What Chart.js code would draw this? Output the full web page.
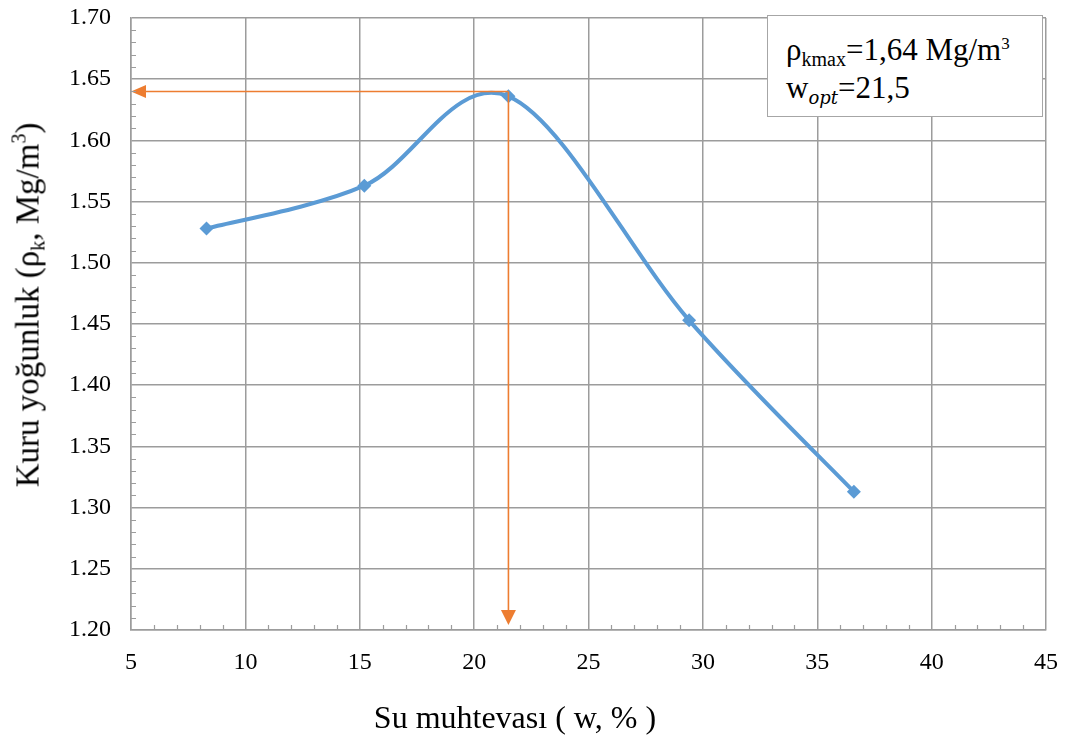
<!DOCTYPE html>
<html>
<head>
<meta charset="utf-8">
<script src="https://cdn.jsdelivr.net/npm/chart.js@4.4.1/dist/chart.umd.min.js"></script>
<style>
  html, body { margin: 0; padding: 0; background: #ffffff; }
  #wrap { position: relative; width: 1069px; height: 740px; }
  #chart { position: absolute; left: 0; top: 0; }
  .serif { font-family: "Liberation Serif", "Times New Roman", serif; color: #000; }
  #ytitle {
    position: absolute; left: 28px; top: 305px;
    transform: translate(-50%, -50%) rotate(-90deg);
    white-space: nowrap; font-size: 33px; line-height: 1;
  }
  #ytitle sub { font-size: 20px; vertical-align: -6px; line-height: 0; }
  #ytitle sup { font-size: 20px; vertical-align: 13px; line-height: 0; }
  #xtitle {
    position: absolute; left: 515px; top: 717px;
    transform: translate(-50%, -50%);
    white-space: nowrap; font-size: 32px; line-height: 1;
  }
  #infobox {
    position: absolute; left: 767px; top: 15px; width: 274px; height: 100px;
    background: #ffffff; border: 1.5px solid #a6a6a6;
  }
  #infobox .ln { position: absolute; left: 18px; white-space: nowrap; font-size: 31px; line-height: 1; }
  #infobox sub { font-size: 20px; vertical-align: -6px; line-height: 0; }
  #infobox sup { font-size: 17px; vertical-align: 11px; line-height: 0; }
  #infobox i { font-family: "DejaVu Serif", serif; font-style: italic; font-size: 18px; }
</style>
</head>
<body>
<div id="wrap">
  <canvas id="chart" width="1069" height="740"></canvas>
  <div id="ytitle" class="serif">Kuru yoğunluk (ρ<sub>k</sub>, Mg/m<sup>3</sup>)</div>
  <div id="xtitle" class="serif">Su muhtevası ( w, % )</div>
  <div id="infobox" class="serif">
    <div class="ln" style="top:18px;">ρ<sub>kmax</sub>=1,64 Mg/m<sup>3</sup></div>
    <div class="ln" style="top:56px;">w<sub><i>opt</i></sub>=21,5</div>
  </div>
</div>
<script>
// Compaction test: water content (%) vs dry density (Mg/m3)
const waterContent = [8.3, 15.2, 21.5, 29.4, 36.6];
const dryDensity   = [1.528, 1.563, 1.636, 1.453, 1.313];

// Optimum values
const optWater   = 21.5;
const maxDensity = 1.64;

// Axis ranges and tick steps
const xRange = [5, 45];
const xStep = 5;
const yRange = [1.20, 1.70];
const yStep = 0.05;

const serif = "'Liberation Serif', 'Times New Roman', serif";
const gridGray = '#9c9c9c';
const blue = '#5b9bd5';
const orange = '#ed7d31';

// Uniform Catmull-Rom smoothing: control points at 1/6 of the neighbour span
const SMOOTH = 1 / 6;
const uniformSpline = {
  id: 'uniformSpline',
  beforeDatasetDraw(chart, args) {
    const line = args.meta.dataset;
    if (!line) return;
    line.updateControlPoints(chart.chartArea);
    const pts = args.meta.data;
    for (let i = 0; i < pts.length; i++) {
      const p = pts[i];
      const a = pts[i - 1] || p;
      const b = pts[i + 1] || p;
      const dx = (b.x - a.x) * SMOOTH;
      const dy = (b.y - a.y) * SMOOTH;
      p.cp1x = p.x - dx; p.cp1y = p.y - dy;
      p.cp2x = p.x + dx; p.cp2y = p.y + dy;
    }
  }
};

// Small inner ticks between the major gridlines
const minorTicks = {
  id: 'minorTicks',
  afterDraw(chart) {
    const { ctx, chartArea: a, scales: { x, y } } = chart;
    ctx.save();
    ctx.strokeStyle = gridGray;
    ctx.lineWidth = 1.2;
    ctx.beginPath();
    for (let v = xRange[0]; v <= xRange[1] + 1e-9; v += 1) {
      if (Math.abs(v / xStep - Math.round(v / xStep)) < 1e-6) continue;
      const px = Math.round(x.getPixelForValue(v)) + 0.5;
      ctx.moveTo(px, a.bottom);
      ctx.lineTo(px, a.bottom - 5);
    }
    for (let i = 0; i <= 50; i++) {
      if (i % 5 === 0) continue;
      const v = yRange[0] + i * 0.01;
      const py = Math.round(y.getPixelForValue(v)) + 0.5;
      ctx.moveTo(a.left, py);
      ctx.lineTo(a.left + 5, py);
    }
    ctx.stroke();
    ctx.restore();
  }
};

// Orange guide arrows from the optimum point to both axes
function arrowHead(ctx, tipX, tipY, dx, dy, len, half) {
  const bx = tipX - dx * len, by = tipY - dy * len;
  const nx = -dy, ny = dx;
  ctx.beginPath();
  ctx.moveTo(tipX, tipY);
  ctx.lineTo(bx + nx * half, by + ny * half);
  ctx.lineTo(bx - nx * half, by - ny * half);
  ctx.closePath();
  ctx.fill();
}
const optimumArrows = {
  id: 'optimumArrows',
  afterDatasetsDraw(chart) {
    const { ctx, scales: { x, y } } = chart;
    const ox = x.getPixelForValue(optWater);
    const oy = y.getPixelForValue(maxDensity);
    const lx = x.getPixelForValue(xRange[0]);
    const by = y.getPixelForValue(yRange[0]) - 5;
    ctx.save();
    ctx.strokeStyle = orange;
    ctx.fillStyle = orange;
    ctx.lineWidth = 1.6;
    ctx.beginPath();
    ctx.moveTo(ox, oy);
    ctx.lineTo(lx + 12, oy);
    ctx.moveTo(ox, oy);
    ctx.lineTo(ox, by - 12);
    ctx.stroke();
    arrowHead(ctx, lx, oy, -1, 0, 15, 6.5);
    arrowHead(ctx, ox, by, 0, 1, 15, 7.5);
    ctx.restore();
  }
};

new Chart(document.getElementById('chart'), {
  type: 'line',
  data: {
    datasets: [{
      data: waterContent.map((w, i) => ({ x: w, y: dryDensity[i] })),
      borderColor: blue,
      backgroundColor: blue,
      borderWidth: 4,
      tension: 0.4,
      pointStyle: 'rectRot',
      pointRadius: 7,
      pointBorderWidth: 0,
      pointBackgroundColor: blue,
      fill: false
    }]
  },
  options: {
    responsive: false,
    animation: false,
    layout: { padding: { left: 0, right: 23, top: 18, bottom: 0 } },
    plugins: { legend: { display: false }, tooltip: { enabled: false } },
    scales: {
      x: {
        type: 'linear',
        min: xRange[0], max: xRange[1],
        ticks: { stepSize: xStep, color: '#000', font: { family: serif, size: 24 }, padding: 18, maxRotation: 0 },
        grid: { color: gridGray, lineWidth: 1.5, drawTicks: false },
        border: { color: gridGray, width: 1.5 },
        afterFit(scale) { scale.height = 110; scale.paddingLeft = 0; scale.paddingRight = 0; }
      },
      y: {
        min: yRange[0], max: yRange[1],
        ticks: {
          stepSize: yStep, color: '#000', font: { family: serif, size: 24 }, padding: 20,
          callback: v => Number(v).toFixed(2)
        },
        grid: { color: gridGray, lineWidth: 1.5, drawTicks: false },
        border: { color: gridGray, width: 1.5 },
        afterFit(scale) { scale.width = 131; scale.paddingTop = 0; scale.paddingBottom = 0; }
      }
    }
  },
  plugins: [uniformSpline, minorTicks, optimumArrows]
});
</script>
</body>
</html>
